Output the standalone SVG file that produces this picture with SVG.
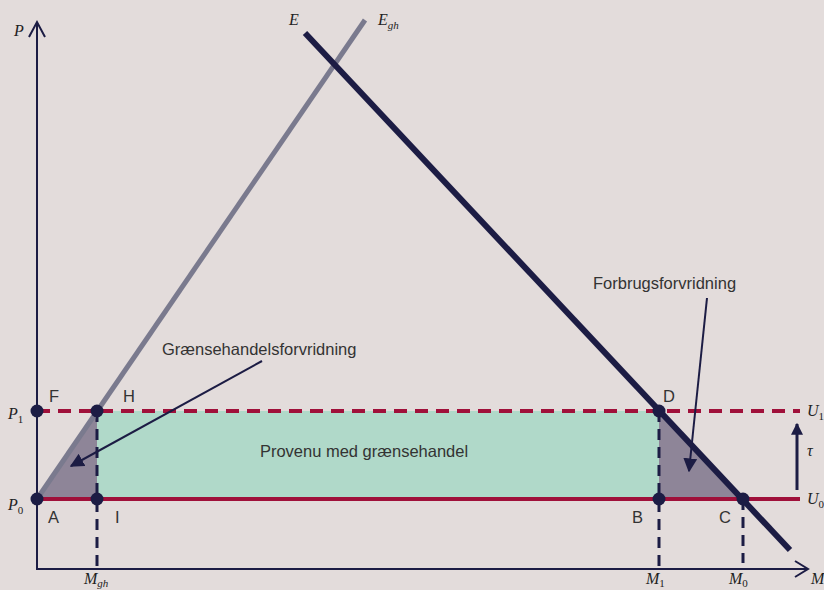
<svg xmlns="http://www.w3.org/2000/svg" width="824" height="590" viewBox="0 0 824 590">
<defs>
<marker id="ah" viewBox="0 0 10 10" refX="9" refY="5" markerWidth="7" markerHeight="7" orient="auto"><path d="M0,0 L10,5 L0,10 z" fill="#1c1c44"/></marker>
<marker id="ah3" viewBox="0 0 10 10" refX="9" refY="5" markerWidth="4.2" markerHeight="4" orient="auto"><path d="M0,0 L10,5 L0,10 z" fill="#1c1c44"/></marker>
<style>
.ax{stroke:#1c1c44;stroke-width:2;fill:none}
.pt{fill:#1c1c44}
.lbl{font-family:"Liberation Sans",Arial,sans-serif;font-size:16.5px;fill:#333}
.it{font-family:"Liberation Serif","Times New Roman",serif;font-style:italic;font-size:16px;fill:#222}
.sub{font-size:11px}
.num{font-style:normal}
.vd{stroke:#1c1c44;stroke-width:3;stroke-dasharray:11,7;fill:none}
.tri{fill:#8e8598}
</style>
</defs>
<rect width="824" height="590" fill="#e3dcdb"/>
<g id="areas">
<rect id="provenu" x="97" y="411" width="562" height="88" fill="#b0d9c9"/>
<polygon id="tri-left" class="tri" points="37,499 97,411 97,499"/>
<polygon id="tri-right" class="tri" points="659,411 659,499 743,499"/>
</g>
<g id="axes">
<path class="ax" d="M37,569 L37,22 M29,37 L37,22 L45,37"/>
<path class="ax" d="M36,569 L808,569 M795,561 L808,569 L795,577"/>
</g>
<g id="connectors">
<line x1="37" y1="499" x2="800" y2="499" stroke="#a0103a" stroke-width="4"/>
<line x1="37" y1="411" x2="800" y2="411" stroke="#a0103a" stroke-width="4" stroke-dasharray="13,8"/>
<line class="vd" x1="97" y1="411" x2="97" y2="569"/>
<line class="vd" x1="659" y1="411" x2="659" y2="569"/>
<line class="vd" x1="743" y1="499" x2="743" y2="563"/>
<line id="Egh" x1="37" y1="499" x2="365" y2="20" stroke="#7a7a8e" stroke-width="5"/>
<line id="E" x1="305" y1="33" x2="790" y2="550" stroke="#1c1c44" stroke-width="6"/>
<line x1="797" y1="490" x2="797" y2="424" stroke="#1c1c44" stroke-width="3" marker-end="url(#ah3)"/>
<line x1="262" y1="361" x2="71" y2="466" stroke="#1c1c44" stroke-width="2" marker-end="url(#ah)"/>
<line x1="707" y1="298" x2="689" y2="471" stroke="#1c1c44" stroke-width="2" marker-end="url(#ah)"/>
</g>
<g id="points">
<circle id="A" class="pt" cx="37" cy="499" r="6.5"/>
<circle id="I" class="pt" cx="97" cy="499" r="6.5"/>
<circle id="H" class="pt" cx="97" cy="411" r="6.5"/>
<circle id="F" class="pt" cx="37" cy="411" r="6.5"/>
<circle id="D" class="pt" cx="659" cy="411" r="6.5"/>
<circle id="B" class="pt" cx="659" cy="499" r="6.5"/>
<circle id="C" class="pt" cx="743" cy="499" r="6.5"/>
</g>
<g id="labels">
<text class="lbl" x="49" y="402">F</text>
<text class="lbl" x="123" y="402">H</text>
<text class="lbl" x="663" y="402">D</text>
<text class="lbl" x="48" y="523">A</text>
<text class="lbl" x="115" y="523">I</text>
<text class="lbl" x="632" y="523">B</text>
<text class="lbl" x="719" y="523">C</text>
<text class="lbl" x="364" y="457" text-anchor="middle">Provenu med grænsehandel</text>
<text class="lbl" x="162" y="355">Grænsehandelsforvridning</text>
<text class="lbl" x="593" y="289">Forbrugsforvridning</text>
<text class="it" x="14" y="36">P</text>
<text class="it" x="289" y="25">E</text>
<text class="it" x="378" y="25">E<tspan class="sub" dy="4">gh</tspan></text>
<text class="it" x="8" y="419">P<tspan class="sub num" dy="4">1</tspan></text>
<text class="it" x="8" y="510">P<tspan class="sub num" dy="4">0</tspan></text>
<text class="it" x="807" y="416">U<tspan class="sub num" dy="4">1</tspan></text>
<text class="it" x="807" y="504">U<tspan class="sub num" dy="4">0</tspan></text>
<text class="it" x="807" y="456">τ</text>
<text class="it" x="811" y="584">M</text>
<text class="it" x="646" y="584">M<tspan class="sub num" dy="3">1</tspan></text>
<text class="it" x="729" y="584">M<tspan class="sub num" dy="3">0</tspan></text>
<text class="it" x="84" y="584">M<tspan class="sub" dy="3">gh</tspan></text>
</g>
</svg>
